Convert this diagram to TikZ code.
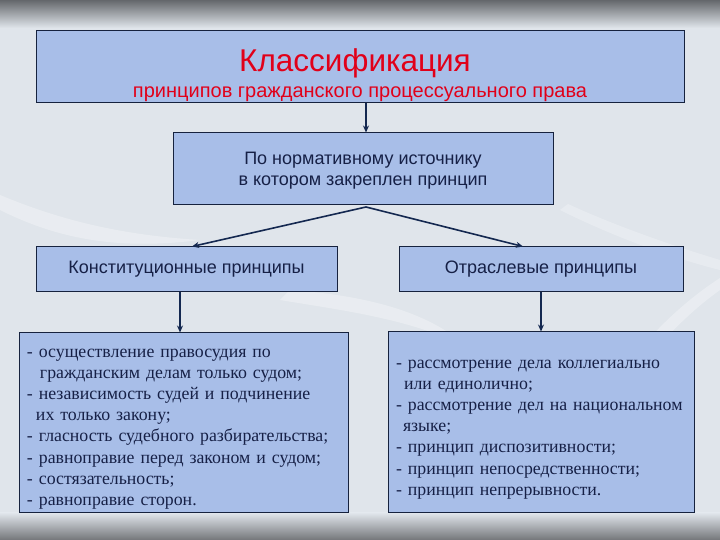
\documentclass[tikz,border=0pt]{standalone}
\usepackage{fontspec}
\setmainfont{Liberation Serif}
\newfontfamily\sansf{Liberation Sans}
\usetikzlibrary{arrows.meta,calc}
\definecolor{boxfill}{RGB}{168,190,232}
\definecolor{boxline}{RGB}{22,34,62}
\definecolor{navy}{RGB}{22,32,70}
\definecolor{redt}{RGB}{225,0,25}
\definecolor{bgmain}{RGB}{224,229,235}
\definecolor{bgdark}{RGB}{100,103,107}
\definecolor{arrowc}{RGB}{20,40,80}
\tikzset{
  box/.style={draw=boxline, line width=1pt, fill=boxfill, inner sep=0pt, text=navy},
  sanstext/.style={font=\sansf\fontsize{18}{21}\selectfont, align=center, text=navy, inner sep=0pt},
  listtext/.style={font=\fontsize{17.8}{21.2}\selectfont, align=left, text=navy, inner sep=0pt},
  arr/.style={draw=arrowc, line width=1.6pt, -{Stealth[length=7pt,width=6pt]}}
}
\begin{document}
\begin{tikzpicture}[x=1pt,y=1pt]
\useasboundingbox (0,0) rectangle (720,540);
% background
\fill[bgmain] (0,0) rectangle (720,540);
\shade[top color=bgdark, bottom color=bgmain] (0,512) rectangle (720,540);
\shade[top color=bgmain, bottom color=bgdark!90] (0,0) rectangle (720,27);
% faint streaks
\fill[white, opacity=0.3] (0,330) .. controls (60,300) and (120,290) .. (200,300) .. controls (120,305) and (60,320) .. (0,345) -- cycle;
\fill[white, opacity=0.3] (560,40) .. controls (600,120) and (650,200) .. (720,250) -- (720,262) .. controls (640,210) and (590,130) .. (548,40) -- cycle;
\fill[white, opacity=0.3] (280,240) .. controls (340,230) and (420,220) .. (470,190) .. controls (430,230) and (360,245) .. (290,250) -- cycle;
\fill[white, opacity=0.25] (560,330) .. controls (620,300) and (680,280) .. (720,270) -- (720,280) .. controls (680,292) and (620,312) .. (568,336) -- cycle;

% boxes
\node[box, minimum width=648pt, minimum height=72pt] (b1) at (360,473) {};
\node[text=redt, font=\sansf\fontsize{31.5}{34}\selectfont, anchor=base] (t1) at (355,468) {Классификация};
\node[text=redt, font=\sansf\fontsize{20}{22}\selectfont, anchor=base] (t2) at (360,442) {принципов гражданского процессуального права};

\node[box, minimum width=380pt, minimum height=72pt] (b2) at (363,371) {};
\node[sanstext] (t3) at ($(b2.center)+(0,-2)$) {По нормативному источнику\\в котором закреплен принцип};

\node[box, minimum width=301pt, minimum height=45pt] (b3) at (186.5,270.5) {};
\node[sanstext] (t4) at (b3.center) {Конституционные принципы};
\node[box, minimum width=284pt, minimum height=45pt] (b4) at (541,270.5) {};
\node[sanstext] (t5) at (b4.center) {Отраслевые принципы};

\node[box, minimum width=329pt, minimum height=180pt] (b5) at (183.5,117) {};
\node[listtext, text width=313pt] (l5) at ($(b5.center)+(0,-6)$)
  {- осуществление правосудия по\\
   \hspace*{13pt}гражданским делам только судом;\\
   - независимость судей и подчинение\\
   \hspace*{9pt}их только закону;\\
   - гласность судебного разбирательства;\\
   - равноправие перед законом и судом;\\
   - состязательность;\\
   - равноправие сторон.};

\node[box, minimum width=306pt, minimum height=181pt] (b6) at (541,117.5) {};
\node[listtext, text width=290pt] (l6) at ($(b6.center)+(0,-7)$)
  {- рассмотрение дела коллегиально\\
   \hspace*{8pt}или единолично;\\
   - рассмотрение дел на национальном\\
   \hspace*{7pt}языке;\\
   - принцип диспозитивности;\\
   - принцип непосредственности;\\
   - принцип непрерывности.};

% connectors
\coordinate (a1) at (366,437);
\coordinate (apex) at (366,333);
\coordinate (l1) at (180,248);
\coordinate (r1) at (541,248);
\draw[arr] (a1) -- (a1 |- b2.north);
\draw[arr] (apex) -- (b3.north -| 192,0);
\draw[arr] (apex) -- (b4.north -| 523,0);
\draw[arr] (l1) -- (l1 |- b5.north);
\draw[arr] (r1) -- (r1 |- b6.north);
\end{tikzpicture}
\end{document}
